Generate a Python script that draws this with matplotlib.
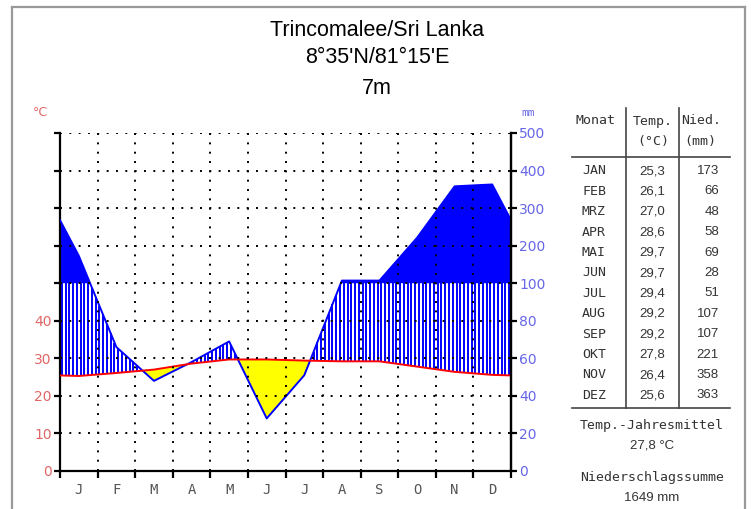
import numpy as np
import matplotlib
matplotlib.use("Agg")
import matplotlib.pyplot as plt
from matplotlib.lines import Line2D

# climate data Trincomalee
months = ["J", "F", "M", "A", "M", "J", "J", "A", "S", "O", "N", "D"]
month_names = ["JAN", "FEB", "MRZ", "APR", "MAI", "JUN", "JUL", "AUG", "SEP", "OKT", "NOV", "DEZ"]
temp = [25.3, 26.1, 27.0, 28.6, 29.7, 29.7, 29.4, 29.2, 29.2, 27.8, 26.4, 25.6]
precip = [173, 66, 48, 58, 69, 28, 51, 107, 107, 221, 358, 363]
mm_labels = ["0", "20", "40", "60", "80", "100", "200", "300", "400", "500"]
temp_mean = "27,8 °C"
precip_sum = "1649 mm"

W, H = 751, 509
fig = plt.figure(figsize=(W / 100, H / 100), dpi=100)


def px(x, y):
    return x / W, 1 - y / H


# precipitation in temperature units (1 °C = 2 mm, above 100 mm compressed 1:5)
def p_scale(p):
    p = np.asarray(p, dtype=float)
    return np.where(p <= 100, p / 2, 50 + (p - 100) / 10)


# month centres plus wrap-around edges
xc = np.arange(12) + 0.5
t_edge = (temp[0] + temp[-1]) / 2
p_edge = (precip[0] + precip[-1]) / 2
x_ext = np.concatenate([[0], xc, [12]])
t_ext = np.concatenate([[t_edge], temp, [t_edge]])
p_ext = np.concatenate([[p_edge], precip, [p_edge]])

# piecewise linear in the drawn (scaled) units
pt_ext = p_scale(p_ext)
xf = np.linspace(0, 12, 2401)
tf = np.interp(xf, x_ext, t_ext)
pf = np.interp(xf, x_ext, pt_ext)

ax = fig.add_axes([60 / W, 38 / H, 451 / W, 338 / H])
ax.set_xlim(0, 12)
ax.set_ylim(0, 90)

# solid blue above 100 mm
ax.fill_between(xf, 50, pf, where=pf > 50, color="#0000ff", lw=0, zorder=2)
# arid period
ax.fill_between(xf, pf, tf, where=tf > pf, color="#ffff00", lw=0, zorder=2)
# humid period: vertical hatching
xh = np.arange(0.05, 12, 0.1)
th = np.interp(xh, x_ext, t_ext)
ph = np.interp(xh, x_ext, pt_ext)
m = ph > th
ax.vlines(xh[m], th[m], np.minimum(ph[m], 50), color="#0000ff", lw=1.4, zorder=2)

ax.plot(x_ext, pt_ext, color="#0000ff", lw=1.4, zorder=3)
ax.plot(x_ext, t_ext, color="#ff0000", lw=1.4, zorder=4)

# dotted grid
for y in range(10, 100, 10):
    ax.axhline(y, color="black", lw=1.4, ls=(0, (1, 3.8)), zorder=5)
for x in range(1, 12):
    ax.axvline(x, color="black", lw=1.4, ls=(0, (1, 3.8)), zorder=5)

for s in ["top"]:
    ax.spines[s].set_visible(False)
for s in ["left", "bottom", "right"]:
    ax.spines[s].set_linewidth(1.6)

ax.set_xticks(range(13))
ax.set_xticklabels([])
ax.set_xticks(xc, minor=True)
ax.set_xticklabels(months, minor=True, family="DejaVu Sans Mono", fontsize=10, color="#555555")
ax.tick_params(axis="x", which="major", direction="out", length=5, width=1.6)
ax.tick_params(axis="x", which="minor", length=0, pad=9)

ax.set_yticks(range(0, 100, 10))
ax.set_yticklabels(["0", "10", "20", "30", "40", "", "", "", "", ""], color="#e06666", fontsize=10)
ax.tick_params(axis="y", direction="out", length=4, width=1.6, pad=2)

ax2 = ax.twinx()
ax2.set_ylim(0, 90)
ax2.set_yticks(range(0, 100, 10))
ax2.set_yticklabels(mm_labels, color="#6666e6", fontsize=10)
ax2.tick_params(axis="y", direction="out", length=4, width=1.6, pad=2)
for s in ["top", "left", "bottom"]:
    ax2.spines[s].set_visible(False)
ax2.spines["right"].set_linewidth(1.6)

fig.text(*px(40, 113), "°C", color="#e06666", fontsize=9, ha="center", va="center")
fig.text(*px(528, 113), "mm", color="#6666e6", fontsize=8, ha="center", va="center",
         family="DejaVu Sans Mono")

# title
fig.text(*px(377, 30), "Trincomalee/Sri Lanka", fontsize=15.5, ha="center", va="center",
         family="Liberation Sans")
fig.text(*px(377, 58), "8°35'N/81°15'E", fontsize=15.5, ha="center", va="center",
         family="Liberation Sans")
fig.text(*px(377, 88), "7m", fontsize=15.5, ha="center", va="center", family="Liberation Sans")

# table
mono = "DejaVu Sans Mono"
tc = "#333333"
fig.text(*px(596, 121), "Monat", family=mono, fontsize=9.5, ha="center", va="center", color=tc)
fig.text(*px(653, 121), "Temp.", family=mono, fontsize=9.5, ha="center", va="center", color=tc)
fig.text(*px(701, 121), "Nied.", family=mono, fontsize=9.5, ha="center", va="center", color=tc)
fig.text(*px(653, 142), "(°C)", family=mono, fontsize=9.5, ha="center", va="center", color=tc)
fig.text(*px(700, 142), "(mm)", family=mono, fontsize=9.5, ha="center", va="center", color=tc)
for i in range(12):
    y = 171 + 20.4 * i
    fig.text(*px(594, y), month_names[i], family=mono, fontsize=9.5, ha="center", va="center", color=tc)
    fig.text(*px(652, y), f"{temp[i]:.1f}".replace(".", ","), fontsize=9.5, ha="center",
             va="center", color=tc, family="Liberation Sans")
    fig.text(*px(719, y), str(precip[i]), fontsize=9.5, ha="right", va="center", color=tc,
             family="Liberation Sans")

line_kw = dict(color="#444444", lw=1.2)
fig.add_artist(Line2D([572 / W, 730 / W], [1 - 157 / H, 1 - 157 / H], **line_kw))
fig.add_artist(Line2D([572 / W, 730 / W], [1 - 408 / H, 1 - 408 / H], **line_kw))
fig.add_artist(Line2D([626 / W, 626 / W], [1 - 108 / H, 1 - 408 / H], **line_kw))
fig.add_artist(Line2D([679 / W, 679 / W], [1 - 108 / H, 1 - 408 / H], **line_kw))

fig.text(*px(652, 425), "Temp.-Jahresmittel", family=mono, fontsize=9.5, ha="center", va="center", color=tc)
fig.text(*px(652, 445), temp_mean, fontsize=9.5, ha="center", va="center", color=tc, family="Liberation Sans")
fig.text(*px(652, 478), "Niederschlagssumme", family=mono, fontsize=9.5, ha="center", va="center", color=tc)
fig.text(*px(652, 498), precip_sum, fontsize=9.5, ha="center", va="center", color=tc, family="Liberation Sans")

# outer frame
frame_kw = dict(color="#999999", lw=1.6)
fig.add_artist(Line2D([12 / W, 12 / W], [0, 1 - 7 / H], **frame_kw))
fig.add_artist(Line2D([12 / W, 745 / W], [1 - 7 / H, 1 - 7 / H], **frame_kw))
fig.add_artist(Line2D([745 / W, 745 / W], [0, 1 - 7 / H], **frame_kw))

fig.savefig("out.png", dpi=100)
